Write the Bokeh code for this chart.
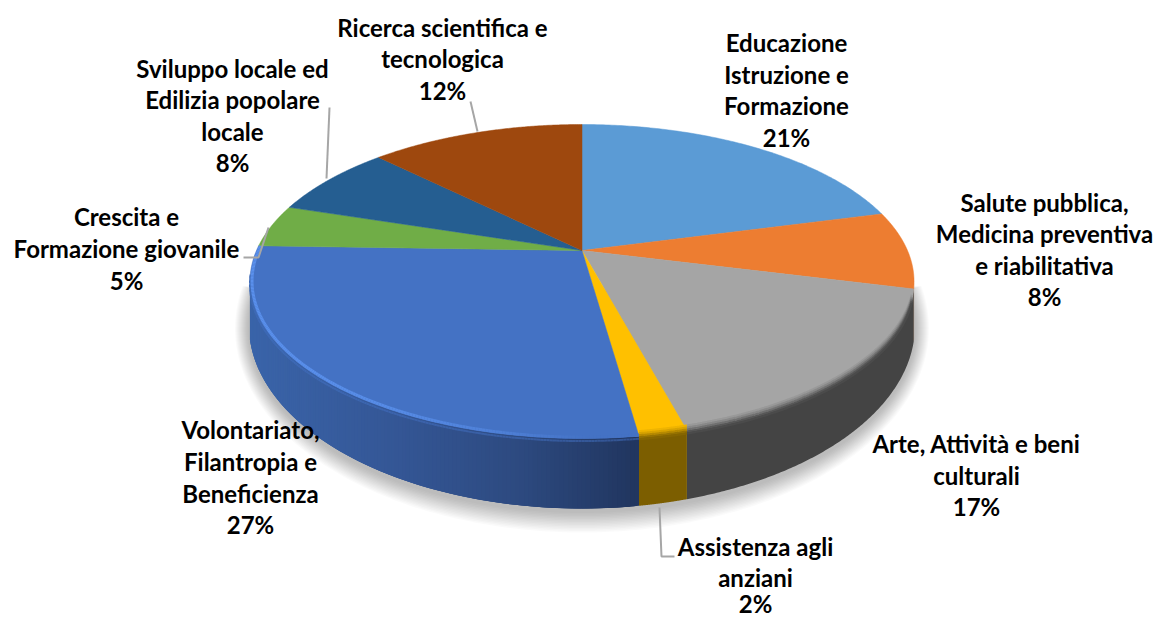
import numpy as np
from bokeh.plotting import figure
from bokeh.models import ColumnDataSource
from bokeh.core.properties import value
from bokeh.embed import file_html
from bokeh.resources import INLINE

categories = ["Educazione Istruzione e Formazione", "Salute pubblica, Medicina preventiva e riabilitativa",
              "Arte, Attività e beni culturali", "Assistenza agli anziani",
              "Volontariato, Filantropia e Beneficienza", "Crescita e Formazione giovanile",
              "Sviluppo locale ed Edilizia popolare locale", "Ricerca scientifica e tecnologica"]
shares = [20.9, 8.0, 16.9, 1.95, 27.75, 4.4, 7.5, 12.6]
top_colors = ["#5b9bd5", "#ed7d31", "#a5a5a5", "#ffc000", "#4472c4", "#70ad47", "#255e91", "#9e480e"]
wall_colors = ["#3a6591", "#9a5420", "#444444", "#7c5e00", "#3a62a8", "#44692c", "#173a5a", "#622c08"]

label_lines = [
    (["Educazione", "Istruzione e", "Formazione", "21%"], 786, [42, 74, 105, 137]),
    (["Salute pubblica,", "Medicina preventiva", "e riabilitativa", "8%"], 1044, [202, 233, 265, 296]),
    (["Arte, Attività e beni", "culturali", "17%"], 976, [443, 475, 506]),
    (["Assistenza agli", "anziani", "2%"], 755, [546, 577, 603]),
    (["Volontariato,", "Filantropia e", "Beneficienza", "27%"], 250, [429, 461, 493, 524]),
    (["Crescita e", "Formazione giovanile", "5%"], 126, [216, 248, 280]),
    (["Sviluppo locale ed", "Edilizia popolare", "locale", "8%"], 232, [68, 99, 131, 162]),
    (["Ricerca scientifica e", "tecnologica", "12%"], 442, [27, 58, 90]),
]
leaders = [
    ([243, 258, 268], [257, 257, 227]),
    ([329, 326], [107, 178]),
    ([470, 477], [101, 131]),
    ([659, 661, 674], [507, 556, 556]),
]

# pie geometry (a perspective view of a disc)
CX, TIP_Y, C, A, D = 581.5, 250.0, -0.1975, 101.5, 325.5
RX2, CY2, RY2 = 333.0, 325.0, 183.0
WIDE_V = -C


def rim(theta, scale=1.0):
    u, v = np.sin(theta) * scale, -np.cos(theta) * scale
    w = 1 + C * v
    return CX + D * u / w, (A * v + TIP_Y) / w, v


def hex2rgb(h):
    return np.array([int(h[i:i + 2], 16) for i in (1, 3, 5)], float)


def rgb2hex(c):
    return "#%02x%02x%02x" % tuple(int(round(float(x))) for x in np.clip(c, 0, 255))


def mix(a, b, t):
    return rgb2hex(hex2rgb(a) * (1 - t) + hex2rgb(b) * t)


blue_x = [250, 400, 520, 635]
blue_c = np.array([hex2rgb("#3a64a9"), hex2rgb("#345695"), hex2rgb("#2d4a80"), hex2rgb("#213660")])


def blue_wall(x):
    return rgb2hex([np.interp(x, blue_x, blue_c[:, k]) for k in range(3)])


p = figure(width=1158, height=617, x_range=(0, 1158), y_range=(617, 0), output_backend="svg",
           toolbar_location=None, min_border=0, outline_line_color=None, background_fill_color="white",
           border_fill_color="white")
p.axis.visible = False
p.grid.visible = False

# soft shadow under the pie
t = np.radians(np.linspace(-12, 192, 160))
sx, sy, sa = [], [], []
for i in range(14, 0, -1):
    sx.append(CX + (RX2 + i * 1.0) * np.cos(t))
    sy.append(CY2 + 3 + (RY2 + i * 1.5) * np.sin(t))
    sa.append(0.02)
p.patches(sx, sy, fill_color="#000000", fill_alpha=sa, line_color=None)

edges = 2 * np.pi * np.concatenate([[0], np.cumsum(shares)]) / np.sum(shares)


def bottom(x):
    return CY2 + RY2 * np.sqrt(np.maximum(0, 1 - ((x - CX) / RX2) ** 2))


# side wall: plain slices as one shape, the gradient slice strip by strip (each strip overlaps the next)
wx, wy, wc = [], [], []
for k in range(len(shares)):
    ths = np.linspace(edges[k], edges[k + 1], 160)
    x, y, v = rim(ths)
    keep = v >= WIDE_V
    if keep.sum() < 2:
        continue
    x, y = x[keep], y[keep]
    by = np.maximum(bottom(x), y)
    if k != 4:
        wx.append(np.concatenate([x, x[::-1]]))
        wy.append(np.concatenate([y, by[::-1]]))
        wc.append(wall_colors[k])
    else:
        for i in range(len(x) - 2):
            j = min(i + 3, len(x) - 1)
            wx.append([x[i], x[j], x[j], x[i]])
            wy.append([y[i], y[j], by[j], by[i]])
            wc.append(blue_wall(x[i]))
p.patches(wx, wy, fill_color=wc, line_color=None)

# top face
fx, fy = [], []
for k in range(len(shares)):
    ths = np.linspace(edges[k], edges[k + 1], 120)
    x, y, _ = rim(ths)
    fx.append(np.concatenate([[CX], x]))
    fy.append(np.concatenate([[TIP_Y], y]))
p.patches(fx, fy, fill_color=top_colors, line_color=top_colors, line_width=0.5)

# bevel at the rim: soft blend from the top colour to the wall colour
mx, my, mc = [], [], []
for off, frac in [(-5, 0.12), (-3, 0.3), (-1, 0.55), (1, 0.8), (3, 0.93)]:
    for k in range(len(shares)):
        if k == 4:
            continue
        ths = np.linspace(edges[k], edges[k + 1], 80)
        x, y, v = rim(ths)
        keep = v > WIDE_V + 0.1
        if keep.sum() < 2:
            continue
        mx.append(x[keep])
        my.append(y[keep] + off)
        mc.append(mix(top_colors[k], wall_colors[k], frac))
p.multi_line(mx, my, line_color=mc, line_width=2.2)

# darker blend just under the blue rim
x2, y2, _ = rim(np.linspace(edges[4], np.radians(262), 200))
dx, dy, dc = [], [], []
for i in range(len(x2) - 1):
    dx.append([x2[i], x2[i + 1]])
    dy.append([y2[i] + 2.5, y2[i + 1] + 2.5])
    dc.append(mix("#4472c4", blue_wall(x2[i]), 0.5))
p.multi_line(dx, dy, line_color=dc, line_width=2)

# blue slice: light rim that fades towards the front
ths = np.linspace(edges[4], edges[5], 200)
x, y, v = rim(ths, 0.994)
hx, hy, hc = [], [], []
for i in range(len(ths) - 1):
    frac = min(1.0, (x[i] - 250) / 340)
    hx.append([x[i], x[i + 1]])
    hy.append([y[i], y[i + 1]])
    hc.append(mix("#5a90ec", "#4472c4", frac ** 2))
p.multi_line(hx, hy, line_color=hc, line_width=3)

# leader lines
p.multi_line([l[0] for l in leaders], [l[1] for l in leaders], line_color="#a6a6a6", line_width=2)

# labels
tx, ty, tt = [], [], []
for lines, cx, ys in label_lines:
    for s, yy in zip(lines, ys):
        tx.append(cx)
        ty.append(yy)
        tt.append(s)
src = ColumnDataSource(dict(x=tx, y=ty, t=tt))
p.text("x", "y", text="t", source=src, text_align="center", text_baseline="middle",
       text_font=value("Lato"), text_font_style="bold", text_font_size="24px", text_color="#000000")

open("out.html", "w").write(file_html(p, INLINE))
